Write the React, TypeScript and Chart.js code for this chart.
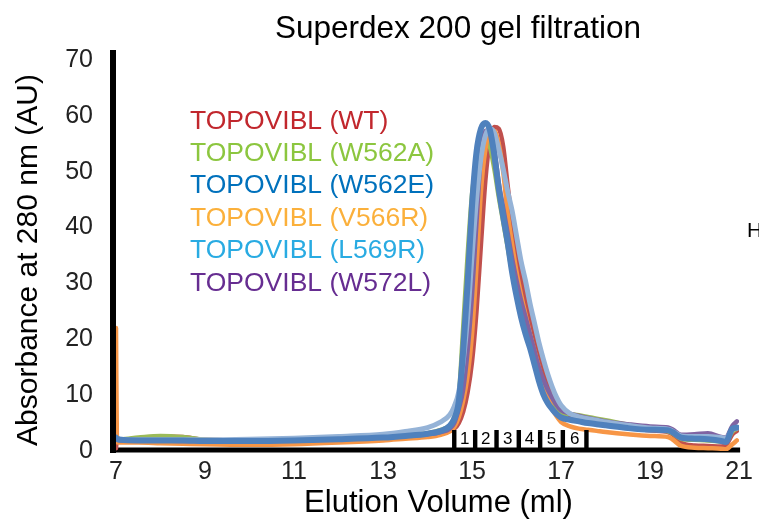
import { useEffect, useRef } from "react";
import { Chart, registerables } from "chart.js";

Chart.register(...registerables);

// Elution volume (ml) sample points shared by all traces
const elutionMl = [
  7.0, 7.02, 7.1, 7.5, 8, 8.5, 9, 10, 11, 12,
  13, 13.5, 14, 14.3, 14.5, 14.6, 14.7, 14.8, 14.9, 15.0,
  15.1, 15.2, 15.3, 15.4, 15.5, 15.6, 15.7, 15.8, 15.9, 16.0,
  16.1, 16.2, 16.3, 16.4, 16.5, 16.6, 16.7, 16.8, 16.9, 17.0,
  17.2, 17.4, 17.6, 17.8, 18.0, 18.5, 19.0, 19.4, 19.5, 19.7,
  20.0, 20.3, 20.6, 20.7, 20.85, 20.95,
];

const wt = [
  0.5, 2.2, 2.1, 2.2, 2.6, 2.5, 2.0, 1.9, 2.0, 2.2,
  2.5, 2.7, 3.0, 3.3, 3.6, 4.0, 5.0, 7.0, 10.5, 16,
  25, 37, 48.5, 55.5, 58, 57.7, 54.5, 47.5, 41, 35.5,
  31, 27.5, 24, 21, 17.5, 14.5, 11.8, 9.5, 8.2, 7.2,
  6.4, 5.9, 5.5, 5.1, 4.8, 4.2, 3.7, 3.4, 3.0, 1.5,
  1.0, 0.9, 0.8, 1.0, 3.0, 3.6,
];
const w562a = [
  2.2, 2.2, 2.1, 2.4, 2.7, 2.5, 2.0, 1.9, 2.1, 2.4,
  2.7, 2.9, 3.2, 3.8, 4.6, 6.0, 9.5, 22, 35, 46,
  52, 55.3, 56, 54.5, 50.5, 45.5, 41, 36.5, 32, 28,
  24.8, 22, 19.5, 16.5, 13.5, 11, 9.5, 8.3, 7.4, 6.8,
  6.6, 6.4, 6.1, 5.8, 5.5, 4.7, 4.0, 3.5, 3.2, 2.2,
  2.0, 1.9, 1.7, 1.6, 3.5, 4.0,
];
const w562e = [
  2.4, 2.2, 2.0, 1.9, 1.9, 1.9, 1.8, 1.8, 1.9, 2.1,
  2.4, 2.7, 3.1, 3.6, 4.5, 5.8, 8.8, 18, 30, 44,
  53.5, 57.7, 58.7, 57.5, 53, 47, 42, 37.3, 32, 27.7,
  24, 21, 18.5, 15.6, 12.6, 10.2, 8.6, 7.5, 6.6, 6.0,
  5.6, 5.3, 5.0, 4.8, 4.6, 4.1, 3.8, 3.7, 3.4, 2.4,
  2.2, 2.1, 1.8, 1.6, 4.0, 4.2,
];
const v566r = [
  22, 1.6, 1.5, 1.5, 1.4, 1.3, 1.2, 1.1, 1.2, 1.5,
  1.9, 2.2, 2.5, 2.9, 3.5, 4.3, 6.0, 9.0, 13.5, 21,
  33, 46.5, 54, 57, 57.3, 55, 50, 42.5, 37, 32,
  28, 24.5, 21, 18, 15, 12, 9.8, 7.6, 6.2, 5.2,
  4.4, 4.0, 3.8, 3.6, 3.4, 3.0, 2.7, 2.5, 2.1, 0.9,
  0.6, 0.5, 0.4, 0.3, 1.2, 1.9,
];
const l569r = [
  2.2, 2.2, 2.1, 2.0, 2.0, 2.0, 2.0, 2.1, 2.3, 2.6,
  3.0, 3.5, 4.2, 5.2, 6.5, 8.0, 10.5, 16, 24, 35,
  45, 52.5, 56.5, 57.7, 57, 54, 50.5, 46.5, 43, 38.5,
  34, 30.5, 26.5, 23, 19.5, 16.5, 13.8, 11.5, 9.6, 8.2,
  6.7, 6.1, 5.8, 5.5, 5.2, 4.6, 4.1, 3.9, 3.6, 2.7,
  2.6, 2.6, 2.4, 2.3, 3.8, 4.1,
];
const w572l = [
  2.0, 2.0, 1.9, 1.9, 1.9, 1.8, 1.8, 1.8, 1.9, 2.1,
  2.4, 2.7, 3.0, 3.4, 4.0, 5.0, 7.5, 11, 18, 28,
  41, 53, 57.3, 57.5, 54, 48, 43.5, 39, 34.5, 30.5,
  27, 24, 21, 18, 15, 12.8, 11, 9.5, 8.2, 7.3,
  6.7, 6.3, 5.9, 5.6, 5.3, 4.8, 4.4, 4.2, 3.9, 2.9,
  3.0, 3.2, 2.5, 2.4, 4.5, 5.3,
];

const seriesNames = [
  "TOPOVIBL (WT)",
  "TOPOVIBL (W562A)",
  "TOPOVIBL (W562E)",
  "TOPOVIBL (V566R)",
  "TOPOVIBL (L569R)",
  "TOPOVIBL (W572L)",
];
const seriesValues = [wt, w562a, w562e, v566r, l569r, w572l];
const lineColors = ["#c0504d", "#9bbb59", "#4f81bd", "#f79646", "#95b3d7", "#8064a2"];
const legendColors = ["#c1272d", "#8cc63f", "#0071bc", "#fbb03b", "#29abe2", "#662d91"];
const lineWidths = [4.5, 4.5, 6, 4.5, 5, 4.5];
const drawOrder = [5, 4, 0, 3, 1, 2];

// Fraction collection boundaries (ml) and labels
const fractionEdges = [14.6, 15.07, 15.55, 16.05, 16.53, 17.04, 17.57];
const fractionLabels = ["1", "2", "3", "4", "5", "6"];

const xTickMin = 7;
const xTickMax = 21;
const xTickStep = 2;
const yTickMin = 0;
const yTickMax = 70;
const yTickStep = 10;

const chartTitle = "Superdex 200 gel filtration";
const xTitle = "Elution Volume (ml)";
const yTitle = "Absorbance at 280 nm (AU)";
const strayText = "H";

const FONT = "'Liberation Sans', Arial, Helvetica, sans-serif";

const overlayPlugin = {
  id: "overlay",
  beforeDatasetsDraw(chart: any) {
    const ctx = chart.ctx;
    const { left, right, bottom } = chart.chartArea;
    ctx.save();
    ctx.fillStyle = "#000";
    ctx.fillRect(left - 6, 50, 6, bottom + 2 - 50);
    ctx.fillRect(left - 6, bottom - 3.5, right + 1 - (left - 6), 5);
    ctx.restore();
  },
  afterDatasetsDraw(chart: any) {
    const ctx = chart.ctx;
    const xs = chart.scales.x;
    const { bottom } = chart.chartArea;
    ctx.save();
    // fraction markers
    ctx.fillStyle = "#000";
    fractionEdges.forEach((v) => {
      const px = xs.getPixelForValue(v);
      ctx.fillRect(px - 2.2, bottom - 21, 4.4, 20);
    });
    ctx.font = `17px ${FONT}`;
    ctx.textAlign = "center";
    ctx.textBaseline = "alphabetic";
    fractionLabels.forEach((lab, i) => {
      const a = xs.getPixelForValue(fractionEdges[i]);
      const b = xs.getPixelForValue(fractionEdges[i + 1]);
      ctx.fillText(lab, (a + b) / 2, bottom - 7);
    });

    // legend
    ctx.textAlign = "left";
    ctx.font = `26.5px ${FONT}`;
    seriesNames.forEach((name, i) => {
      ctx.fillStyle = legendColors[i];
      ctx.fillText(name, 190, 128.5 + i * 32.4);
    });

    // title
    ctx.fillStyle = "#000";
    ctx.textAlign = "center";
    ctx.font = `31.5px ${FONT}`;
    ctx.fillText(chartTitle, 458, 38);

    // x title
    ctx.font = `31px ${FONT}`;
    ctx.fillText(xTitle, 438.5, 512);

    // y title
    ctx.save();
    ctx.translate(37, 260);
    ctx.rotate(-Math.PI / 2);
    ctx.font = `30px ${FONT}`;
    ctx.fillText(yTitle, 0, 0);
    ctx.restore();

    // clipped text at right edge
    ctx.textAlign = "left";
    ctx.font = `21px ${FONT}`;
    ctx.fillText(strayText, 747, 237);
    ctx.restore();
  },
};

export default function App() {
  const ref = useRef<HTMLCanvasElement | null>(null);

  useEffect(() => {
    if (!ref.current) return;
    const datasets = seriesValues.map((vals, i) => ({
      label: seriesNames[i],
      data: elutionMl.map((x, j) => ({ x, y: vals[j] })),
      borderColor: lineColors[i],
      backgroundColor: lineColors[i],
      borderWidth: lineWidths[i],
      pointRadius: 0,
      fill: false,
      cubicInterpolationMode: "monotone" as const,
      order: drawOrder[i],
      borderCapStyle: "round" as const,
      borderJoinStyle: "round" as const,
    }));

    const chart = new Chart(ref.current, {
      type: "line",
      data: { datasets },
      options: {
        responsive: false,
        animation: false,
        devicePixelRatio: 1,
        layout: { padding: { top: 60, right: 19, left: 0, bottom: 0 } },
        plugins: {
          legend: { display: false },
          tooltip: { enabled: false },
          title: { display: false },
        },
        scales: {
          x: {
            type: "linear",
            min: xTickMin,
            max: xTickMax,
            grid: { display: false, drawTicks: false },
            border: { display: false },
            ticks: {
              stepSize: xTickStep,
              autoSkip: false,
              maxRotation: 0,
              padding: 6,
              color: "#222",
              font: { family: FONT, size: 25 },
            },
            afterFit: (s: any) => {
              s.height = 78;
            },
          },
          y: {
            type: "linear",
            min: yTickMin,
            max: yTickMax,
            grid: { display: false, drawTicks: false },
            border: { display: false },
            ticks: {
              stepSize: yTickStep,
              padding: 23,
              color: "#222",
              font: { family: FONT, size: 25 },
            },
            afterFit: (s: any) => {
              s.width = 116;
            },
          },
        },
      },
      plugins: [overlayPlugin],
    });
    return () => chart.destroy();
  }, []);

  return (
    <div style={{ position: "fixed", left: 0, top: 0, width: 759, height: 529, background: "#fff" }}>
      <canvas ref={ref} width={759} height={529} style={{ width: 759, height: 529, display: "block" }} />
    </div>
  );
}
